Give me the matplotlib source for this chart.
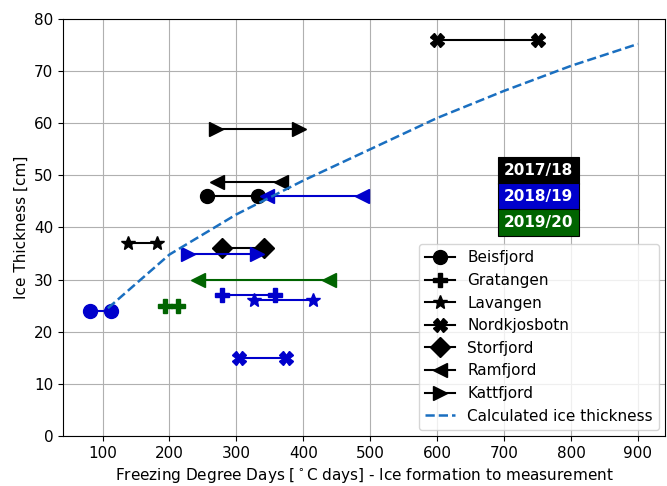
import matplotlib
matplotlib.use("Agg")
import matplotlib.pyplot as plt
from matplotlib.lines import Line2D

# ---- data (freezing degree days, ice thickness cm) ----
beis_1718_x = [256, 333]; beis_1718_y = [46, 46]
beis_1819_x = [82, 113];  beis_1819_y = [24, 24]
grat_1819_x = [279, 357]; grat_1819_y = [27, 27]
grat_1920_x = [194, 213]; grat_1920_y = [25, 25]
lav_1718_x = [138, 181];  lav_1718_y = [37, 37]
lav_1819_x = [327, 414];  lav_1819_y = [26, 26]
nord_1718_x = [600, 750]; nord_1718_y = [76, 76]
nord_1819_x = [304, 374]; nord_1819_y = [15, 15]
stor_1718_x = [278, 341]; stor_1718_y = [36, 36]
ram_1718_x = [271, 367];  ram_1718_y = [48.8, 48.8]
ram_1819_x = [346, 487];  ram_1819_y = [46, 46]
ram_1920_x = [243, 438];  ram_1920_y = [30, 30]
katt_1718_x = [269, 393]; katt_1718_y = [58.8, 58.8]
katt_1819_x = [227, 331]; katt_1819_y = [35, 35]

calc_x = [108, 200, 300, 400, 500, 600, 700, 800, 900]
calc_y = [24.5, 34.8, 42.5, 49.0, 55.0, 61.0, 66.2, 71.0, 75.2]

seasons = ["2017/18", "2018/19", "2019/20"]
season_y = [50.9, 45.9, 40.9]

C1718 = "black"
C1819 = "#0000CC"
C1920 = "#006400"
season_colors = [C1718, C1819, C1920]
CALC = '#1a6fc0'

fig = plt.figure(figsize=(6.67, 4.86), dpi=100)
ax = fig.add_axes([0.0945, 0.103, 0.903, 0.858])

ms = 10
lw = 1.5
def seg(x, y, m, c, size=ms):
    ax.plot(x, y, marker=m, color=c, markersize=size, linewidth=lw)

seg(beis_1718_x, beis_1718_y, 'o', C1718)
seg(grat_1819_x, grat_1819_y, 'P', C1819)
seg(lav_1718_x, lav_1718_y, '*', C1718)
seg(nord_1718_x, nord_1718_y, 'X', C1718)
seg(stor_1718_x, stor_1718_y, 'D', C1718)
seg(ram_1718_x, ram_1718_y, '<', C1718)
seg(katt_1718_x, katt_1718_y, '>', C1718)

seg(beis_1819_x, beis_1819_y, 'o', C1819)
seg(grat_1920_x, grat_1920_y, 'P', C1920)
seg(lav_1819_x, lav_1819_y, '*', C1819)
seg(nord_1819_x, nord_1819_y, 'X', C1819)
seg(ram_1819_x, ram_1819_y, '<', C1819)
seg(ram_1920_x, ram_1920_y, '<', C1920)
seg(katt_1819_x, katt_1819_y, '>', C1819)

ax.plot(calc_x, calc_y, '--', color=CALC, linewidth=1.8)

markers = ['o', 'P', '*', 'X', 'D', '<', '>']
labels = ["Beisfjord", "Gratangen", "Lavangen", "Nordkjosbotn", "Storfjord",
          "Ramfjord", "Kattfjord", "Calculated ice thickness"]
handles = [Line2D([], [], color='black', marker=m, markersize=ms, lw=lw) for m in markers]
handles.append(Line2D([], [], color=CALC, ls='--', lw=1.8))
ax.legend(handles, labels, loc='lower right', fontsize=11, borderaxespad=0.4)

for s, c, yy in zip(seasons, season_colors, season_y):
    ax.text(752, yy, s, color='white', fontsize=11, fontweight='bold',
            ha='center', va='center',
            bbox=dict(boxstyle='square,pad=0.38', facecolor=c, edgecolor='black', linewidth=0.8))

ax.set_xlim(41, 941)
ax.set_ylim(0, 80)
ax.set_xticks([100, 200, 300, 400, 500, 600, 700, 800, 900])
ax.grid(True, color='#b0b0b0', linewidth=0.8)
ax.set_xlabel("Freezing Degree Days [$^\\circ$C days] - Ice formation to measurement", fontsize=11)
ax.set_ylabel("Ice Thickness [cm]", fontsize=11)
ax.tick_params(labelsize=11)

fig.savefig("out.png", dpi=100)
